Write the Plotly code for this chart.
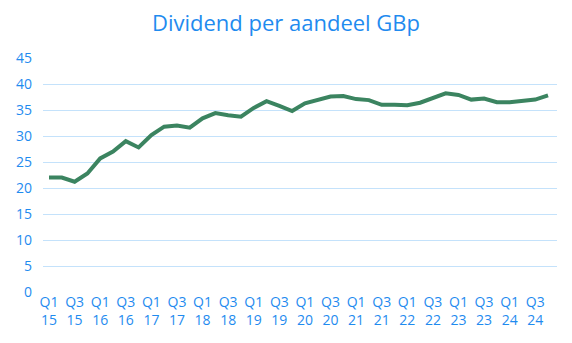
import plotly.graph_objects as go

# Quarterly dividend per share (GBp), Q1 2015 - Q4 2024
quarters = [f"Q{q} {y}" for y in range(15, 25) for q in range(1, 5)]
dividend = [
    22.0, 22.0, 21.2, 22.8,
    25.7, 27.0, 29.0, 27.8,
    30.2, 31.8, 32.0, 31.6,
    33.4, 34.4, 34.0, 33.7,
    35.4, 36.7, 35.8, 34.8,
    36.3, 37.0, 37.6, 37.7,
    37.1, 36.9, 36.0, 36.0,
    35.9, 36.4, 37.2, 38.2,
    37.9, 37.0, 37.2, 36.5,
    36.5, 36.8, 37.0, 37.8,
]
y_ticks = [0, 5, 10, 15, 20, 25, 30, 35, 40, 45]

# label every other quarter (Q1 and Q3), split over two lines
x_tickvals = [q for q in quarters if q.startswith(("Q1", "Q3"))]
x_ticktext = [q.replace(" ", "<br>") for q in x_tickvals]

blue = "#1f8bef"
font_family = "'Open Sans', Lato, sans-serif"

fig = go.Figure(
    go.Scatter(
        x=quarters,
        y=dividend,
        mode="lines",
        line=dict(color="#3b8460", width=4),
        hoverinfo="skip",
    )
)

fig.update_layout(
    width=572,
    height=343,
    margin=dict(l=43, r=15, t=58, b=51),
    paper_bgcolor="white",
    plot_bgcolor="white",
    showlegend=False,
    font=dict(family=font_family, color=blue),
    title=dict(
        text="Dividend per aandeel GBp",
        x=0.5,
        xanchor="center",
        y=1 - 23 / 343,
        yanchor="middle",
        font=dict(size=22, color=blue, family=font_family),
    ),
)

fig.update_xaxes(
    type="category",
    range=[-0.47, len(quarters) - 0.3],
    tickmode="array",
    tickvals=x_tickvals,
    ticktext=x_ticktext,
    showgrid=False,
    showline=False,
    zeroline=False,
    ticks="",
    tickfont=dict(size=14, color=blue),
)

fig.update_yaxes(
    range=[0, 45],
    tickmode="array",
    tickvals=y_ticks,
    showgrid=True,
    gridcolor="#c4e2fb",
    gridwidth=1,
    zeroline=False,
    showline=False,
    ticks="",
    ticklabelstandoff=10,
    tickfont=dict(size=14, color=blue),
)

fig.write_html("out.html")
